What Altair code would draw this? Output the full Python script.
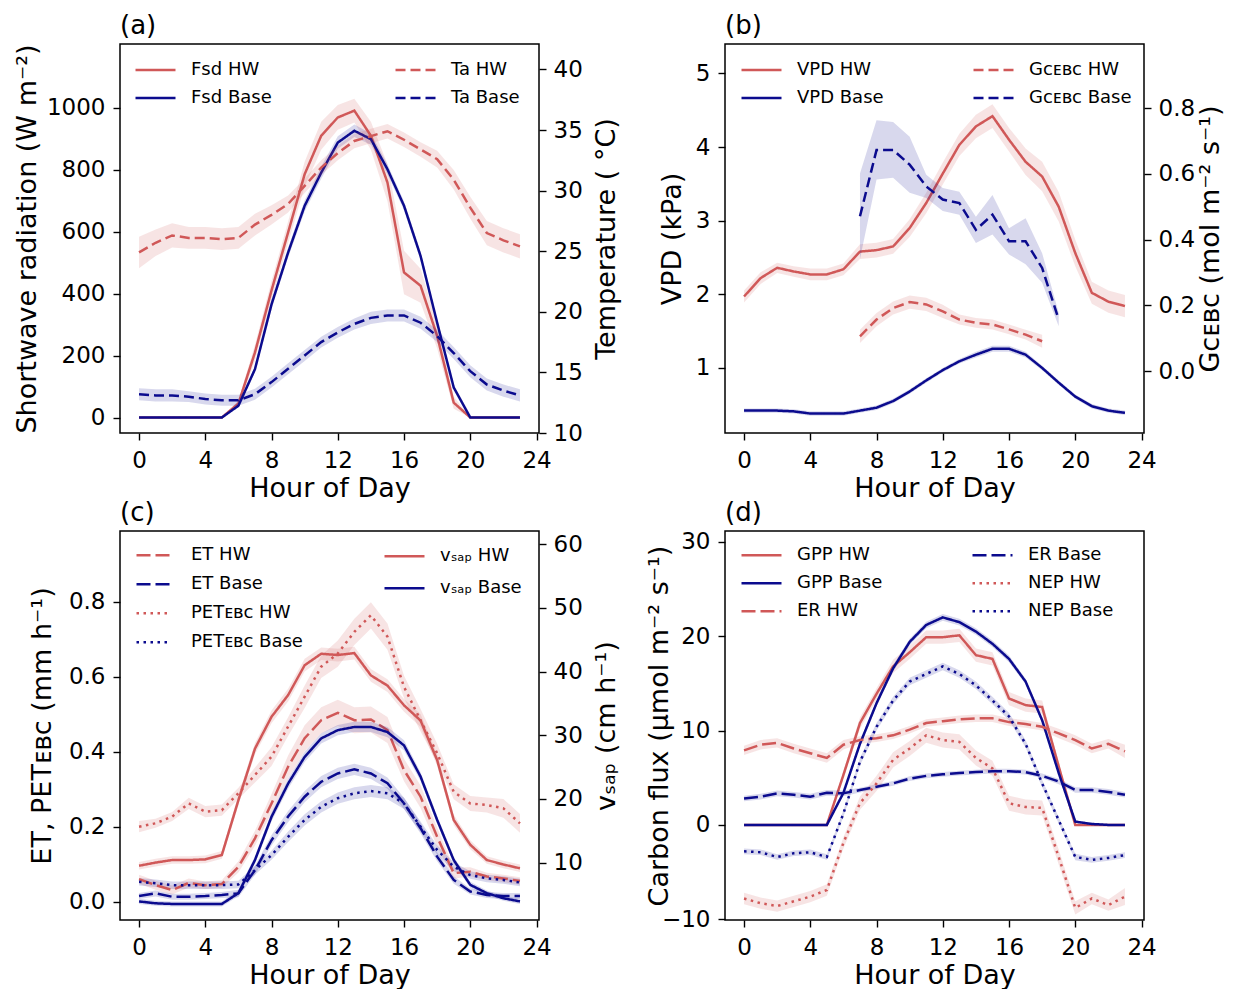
import altair as alt
import pandas as pd

hours = list(range(24))

# ---------------- panel (a) ----------------
fsd_hw = [0, 0, 0, 0, 0, 0, 45, 210, 410, 597, 785, 909, 968, 990, 909, 758, 468, 425, 263, 48, 0, 0, 0, 0]
fsd_hw_err = [0, 0, 0, 0, 0, 0, 10, 25, 30, 35, 40, 45, 40, 38, 45, 60, 70, 55, 40, 20, 0, 0, 0, 0]
fsd_base = [0, 0, 0, 0, 0, 0, 38, 156, 365, 532, 683, 790, 887, 925, 898, 801, 683, 521, 306, 97, 0, 0, 0, 0]
fsd_base_err = [0, 0, 0, 0, 0, 0, 5, 10, 14, 16, 18, 20, 20, 20, 18, 16, 14, 12, 10, 6, 0, 0, 0, 0]
ta_hw = [24.9, 25.7, 26.3, 26.1, 26.1, 26.0, 26.1, 27.2, 28.0, 28.9, 30.4, 31.9, 33.1, 34.1, 34.5, 34.9,
         34.2, 33.4, 32.6, 30.9, 28.6, 26.5, 25.9, 25.4]
ta_hw_err = [1.3, 1.1, 1.0, 0.9, 0.9, 0.9, 0.9, 0.9, 0.8, 0.7, 0.6, 0.6, 0.6, 0.6, 0.6, 0.6,
             0.6, 0.6, 0.7, 0.8, 0.9, 1.0, 1.0, 1.0]
ta_base = [13.2, 13.1, 13.1, 13.0, 12.8, 12.7, 12.7, 13.2, 14.2, 15.3, 16.4, 17.5, 18.3, 19.0, 19.5, 19.7,
           19.7, 19.1, 18.0, 16.6, 15.1, 14.0, 13.5, 13.1]
ta_base_err = [0.5, 0.5, 0.5, 0.45, 0.45, 0.45, 0.45, 0.45, 0.45, 0.45, 0.45, 0.45, 0.45, 0.45, 0.5, 0.5,
               0.5, 0.5, 0.5, 0.5, 0.5, 0.5, 0.5, 0.5]

# ---------------- panel (b) ----------------
vpd_hw = [1.97, 2.22, 2.36, 2.31, 2.27, 2.27, 2.34, 2.58, 2.60, 2.65, 2.90, 3.24, 3.64, 4.03, 4.28, 4.42,
          4.10, 3.80, 3.60, 3.19, 2.56, 2.02, 1.90, 1.84]
vpd_hw_err = [0.08, 0.08, 0.07, 0.07, 0.08, 0.08, 0.08, 0.10, 0.10, 0.10, 0.12, 0.14, 0.15, 0.15, 0.16, 0.16,
              0.16, 0.18, 0.20, 0.20, 0.18, 0.15, 0.15, 0.15]
vpd_base = [0.42, 0.42, 0.42, 0.41, 0.38, 0.38, 0.38, 0.42, 0.46, 0.55, 0.68, 0.83, 0.97, 1.09, 1.18, 1.26,
            1.26, 1.18, 1.00, 0.80, 0.61, 0.48, 0.42, 0.39]
vpd_base_err = [0.03, 0.03, 0.03, 0.03, 0.03, 0.03, 0.03, 0.03, 0.03, 0.03, 0.03, 0.03, 0.03, 0.03, 0.04, 0.04,
                0.04, 0.04, 0.03, 0.03, 0.03, 0.03, 0.03, 0.03]
gc_hw = [None, None, None, None, None, None, None, 0.106, 0.157, 0.192, 0.210, 0.203, 0.182, 0.157, 0.147,
         0.142, 0.127, 0.111, 0.091, None, None, None, None, None]
gc_hw_err = [None, None, None, None, None, None, None, 0.02, 0.02, 0.02, 0.02, 0.02, 0.02, 0.015, 0.015,
             0.015, 0.015, 0.015, 0.02, None, None, None, None, None]
gc_base = [None, None, None, None, None, None, None, 0.471, 0.673, 0.673, 0.628, 0.562, 0.522, 0.511, 0.430,
           0.476, 0.395, 0.395, 0.314, 0.157, None, None, None, None]
gc_base_err = [None, None, None, None, None, None, None, 0.13, 0.09, 0.085, 0.085, 0.035, 0.035, 0.035, 0.04,
               0.06, 0.04, 0.07, 0.045, 0.02, None, None, None, None]

# ---------------- panel (c) ----------------
et_hw = [0.060, 0.044, 0.031, 0.050, 0.044, 0.047, 0.093, 0.169, 0.262, 0.360, 0.436, 0.484, 0.504, 0.484,
         0.486, 0.458, 0.351, 0.280, 0.173, 0.076, 0.080, 0.067, 0.062, 0.055]
et_hw_err = [0.012, 0.012, 0.012, 0.012, 0.010, 0.010, 0.015, 0.020, 0.025, 0.030, 0.035, 0.035, 0.035, 0.035,
             0.035, 0.035, 0.030, 0.030, 0.025, 0.015, 0.012, 0.010, 0.010, 0.010]
et_base = [0.015, 0.022, 0.013, 0.013, 0.015, 0.018, 0.022, 0.084, 0.164, 0.227, 0.280, 0.320, 0.342, 0.353,
           0.342, 0.316, 0.262, 0.196, 0.120, 0.058, 0.027, 0.018, 0.015, 0.015]
et_base_err = [0.008, 0.008, 0.008, 0.008, 0.008, 0.008, 0.010, 0.012, 0.014, 0.015, 0.015, 0.015, 0.015, 0.015,
               0.015, 0.015, 0.015, 0.014, 0.012, 0.010, 0.008, 0.008, 0.008, 0.008]
pet_hw = [0.200, 0.209, 0.227, 0.262, 0.240, 0.244, 0.289, 0.338, 0.387, 0.467, 0.547, 0.627, 0.662, 0.720,
          0.764, 0.707, 0.573, 0.484, 0.396, 0.293, 0.262, 0.258, 0.249, 0.209]
pet_hw_err = [0.015, 0.012, 0.012, 0.015, 0.015, 0.015, 0.015, 0.020, 0.025, 0.025, 0.030, 0.030, 0.035, 0.035,
              0.035, 0.035, 0.030, 0.030, 0.025, 0.020, 0.020, 0.020, 0.025, 0.025]
pet_base = [0.053, 0.049, 0.044, 0.044, 0.044, 0.044, 0.046, 0.084, 0.124, 0.173, 0.218, 0.253, 0.276, 0.289,
            0.295, 0.289, 0.262, 0.200, 0.138, 0.093, 0.071, 0.062, 0.058, 0.051]
pet_base_err = [0.010, 0.010, 0.010, 0.010, 0.010, 0.010, 0.010, 0.012, 0.012, 0.014, 0.015, 0.015, 0.015, 0.016,
                0.016, 0.016, 0.015, 0.014, 0.012, 0.012, 0.010, 0.010, 0.010, 0.010]
vsap_hw = [9.5, 10.0, 10.4, 10.4, 10.5, 11.2, 19.8, 27.9, 32.9, 36.3, 41.0, 42.8, 42.6, 42.9, 39.4, 37.8,
           34.7, 32.3, 26.1, 16.7, 12.8, 10.4, 9.7, 9.1]
vsap_hw_err = [0.6, 0.6, 0.6, 0.6, 0.6, 0.6, 0.8, 0.9, 1.0, 1.0, 1.0, 1.0, 1.0, 1.0, 1.0, 1.0,
               1.0, 1.0, 0.9, 0.8, 0.7, 0.6, 0.6, 0.6]
vsap_base = [3.9, 3.6, 3.5, 3.5, 3.5, 3.5, 5.2, 10.4, 17.2, 22.4, 26.6, 29.5, 30.8, 31.3, 31.3, 30.5,
             28.4, 23.5, 16.7, 10.4, 6.5, 5.2, 4.4, 3.9]
vsap_base_err = [0.4, 0.4, 0.4, 0.4, 0.4, 0.4, 0.5, 0.6, 0.7, 0.8, 0.8, 0.8, 0.8, 0.8, 0.8, 0.8,
                 0.8, 0.7, 0.6, 0.5, 0.5, 0.4, 0.4, 0.4]

# ---------------- panel (d) ----------------
gpp_hw = [0, 0, 0, 0, 0, 0, 5.3, 10.8, 13.9, 16.8, 18.3, 19.9, 19.9, 20.1, 18.0, 17.6, 13.4, 12.7, 12.5, 6.2,
          0, 0, 0, 0]
gpp_hw_err = [0, 0, 0, 0, 0, 0, 0.4, 0.6, 0.6, 0.7, 0.7, 0.7, 0.7, 0.7, 0.7, 0.7, 0.7, 0.7, 0.7, 0.5,
              0, 0, 0, 0]
gpp_base = [0, 0, 0, 0, 0, 0, 3.4, 8.6, 12.9, 16.6, 19.4, 21.2, 22.0, 21.5, 20.5, 19.2, 17.6, 15.2, 11.1, 5.5,
            0.35, 0.1, 0, 0]
gpp_base_err = [0, 0, 0, 0, 0, 0, 0.2, 0.3, 0.3, 0.35, 0.35, 0.35, 0.35, 0.35, 0.35, 0.35, 0.35, 0.3, 0.3, 0.2,
                0.1, 0, 0, 0]
er_hw = [7.9, 8.5, 8.7, 8.1, 7.6, 7.1, 8.5, 9.0, 9.2, 9.5, 10.1, 10.8, 11.0, 11.2, 11.3, 11.3, 10.9, 10.7,
         10.4, 9.7, 9.0, 8.1, 8.6, 7.8]
er_hw_err = [0.5, 0.5, 0.5, 0.5, 0.5, 0.5, 0.5, 0.4, 0.4, 0.4, 0.4, 0.4, 0.4, 0.4, 0.4, 0.4, 0.4, 0.4,
             0.4, 0.5, 0.5, 0.5, 0.5, 0.7]
er_base = [2.8, 3.0, 3.35, 3.2, 3.0, 3.4, 3.35, 3.7, 4.05, 4.4, 4.9, 5.2, 5.36, 5.5, 5.6, 5.7, 5.7, 5.6,
           5.2, 4.6, 3.7, 3.7, 3.5, 3.2]
er_base_err = [0.3, 0.3, 0.3, 0.3, 0.3, 0.3, 0.3, 0.25, 0.25, 0.25, 0.25, 0.25, 0.25, 0.25, 0.25, 0.25, 0.25,
               0.25, 0.25, 0.3, 0.3, 0.3, 0.3, 0.3]
nep_hw = [-7.8, -8.3, -8.6, -8.1, -7.6, -6.9, -1.9, 2.3, 4.4, 6.9, 8.1, 9.5, 9.0, 8.8, 7.1, 6.0, 2.3, 1.9,
          1.8, -3.4, -8.8, -7.8, -8.5, -7.6]
nep_hw_err = [0.6, 0.6, 0.6, 0.6, 0.6, 0.6, 0.6, 0.7, 0.8, 0.8, 0.8, 0.8, 0.8, 0.8, 0.8, 0.8, 0.8, 0.8,
              0.8, 0.8, 0.7, 0.6, 0.6, 0.9]
nep_base = [-2.8, -2.9, -3.4, -3.0, -2.9, -3.4, 1.2, 6.7, 10.4, 13.2, 15.2, 16.0, 16.8, 16.0, 14.8, 13.2,
            11.5, 8.6, 4.4, 0.5, -3.4, -3.7, -3.5, -3.2]
nep_base_err = [0.3, 0.3, 0.3, 0.3, 0.3, 0.3, 0.35, 0.4, 0.4, 0.4, 0.4, 0.4, 0.4, 0.4, 0.4, 0.4,
                0.4, 0.4, 0.4, 0.35, 0.35, 0.3, 0.3, 0.3]

# ---------------- styling ----------------
RED = "#d05858"
BLUE = "#0b0b8e"
SOLID = [1, 0]
DASH = [10, 5]
LONGDASH = [14, 5]
DOT = [2.5, 4.5]
FONT = "DejaVu Sans"
W, H = 419, 389
X_DOMAIN = [-1.15, 24.15]
TICK_FS = 23
TITLE_FS = 27


def make_df(items):
    rows = []
    for name, vals, errs in items:
        for h, v, e in zip(hours, vals, errs):
            if v is None:
                continue
            rows.append({"hour": h, "value": v, "lo": v - e, "hi": v + e, "series": name})
    return pd.DataFrame(rows)


def x_enc():
    return alt.X("hour:Q", scale=alt.Scale(domain=X_DOMAIN, nice=False, zero=False),
                 axis=alt.Axis(values=[0, 4, 8, 12, 16, 20, 24], format="d", title="Hour of Day",
                               labelPadding=9, titlePadding=3))


def left_axis(title, values, fmt, tpad):
    return alt.Axis(orient="left", values=values, format=fmt, title=title, labelPadding=8,
                    titlePadding=tpad)


def right_axis(title, values, fmt, tpad):
    return alt.Axis(orient="right", values=values, format=fmt, title=title, labelPadding=7,
                    titlePadding=tpad, titleAngle=270, titleBaseline="top")


def legend(lx, ly, row_h, sym_len, offset):
    return alt.Legend(orient="none", legendX=lx, legendY=ly, title=None, symbolType="stroke",
                      symbolSize=sym_len * sym_len, symbolStrokeWidth=2.5, clipHeight=row_h,
                      rowPadding=0, labelOffset=offset, labelFontSize=18, labelFont=FONT,
                      labelColor="black", padding=0, labelLimit=400)


def group(items, colors, dashes, y_domain, y_axis, leg):
    df = make_df(items)
    names = [it[0] for it in items]
    cscale = alt.Scale(domain=names, range=colors)
    dscale = alt.Scale(domain=names, range=dashes)
    ysc = alt.Scale(domain=y_domain, nice=False, zero=False)
    base = alt.Chart(df)
    layers = []
    for name, col in zip(names, colors):
        layers.append(
            base.transform_filter(alt.datum.series == name)
            .mark_area(opacity=0.16, color=col)
            .encode(x=x_enc(), y=alt.Y("lo:Q", scale=ysc, axis=y_axis), y2="hi:Q")
        )
    line = base.mark_line(strokeWidth=2.5, strokeCap="butt").encode(
        x=x_enc(),
        y=alt.Y("value:Q", scale=ysc, axis=y_axis),
        color=alt.Color("series:N", scale=cscale, legend=leg),
        strokeDash=alt.StrokeDash("series:N", scale=dscale, legend=leg),
    )
    layers.append(line)
    return alt.layer(*layers)


def panel(label, left, right, y_res="independent"):
    return alt.layer(left, right).resolve_scale(
        y=y_res, color="independent", strokeDash="independent"
    ).properties(
        width=W, height=H,
        title=alt.TitleParams(label, anchor="start", frame="group", fontSize=26, fontWeight="normal",
                              font=FONT, color="black", offset=5),
    )


# (a)
a_left = group(
    [("Fsd HW", fsd_hw, fsd_hw_err), ("Fsd Base", fsd_base, fsd_base_err)],
    [RED, BLUE], [SOLID, SOLID], [-50, 1205],
    left_axis("Shortwave radiation (W m⁻²)", [0, 200, 400, 600, 800, 1000], "d", 5),
    legend(14, 12.4, 27.3, 40, 14),
)
a_right = group(
    [("Ta HW", ta_hw, ta_hw_err), ("Ta Base", ta_base, ta_base_err)],
    [RED, BLUE], [DASH, DASH], [10, 42.1],
    right_axis("Temperature ( °C)", [10, 15, 20, 25, 30, 35, 40], "d", 11),
    legend(274, 12.4, 27.3, 40, 14),
)
pa = panel("(a)", a_left, a_right)

# (b)
b_left = group(
    [("VPD HW", vpd_hw, vpd_hw_err), ("VPD Base", vpd_base, vpd_base_err)],
    [RED, BLUE], [SOLID, SOLID], [0.116, 5.4],
    left_axis("VPD (kPa)", [1, 2, 3, 4, 5], "d", 9),
    legend(15, 12.4, 27.3, 40, 14),
)
b_right = group(
    [("Gcᴇʙᴄ HW", gc_hw, gc_hw_err), ("Gcᴇʙᴄ Base", gc_base, gc_base_err)],
    [RED, BLUE], [DASH, DASH], [-0.188, 0.995],
    right_axis("Gcᴇʙᴄ (mol m⁻² s⁻¹)", [0.0, 0.2, 0.4, 0.6, 0.8], ".1f", 3),
    legend(247, 12.4, 27.3, 40, 14),
)
pb = panel("(b)", b_left, b_right)

# (c)
c_left = group(
    [("ET HW", et_hw, et_hw_err), ("ET Base", et_base, et_base_err),
     ("PETᴇʙᴄ HW", pet_hw, pet_hw_err), ("PETᴇʙᴄ Base", pet_base, pet_base_err)],
    [RED, BLUE, RED, BLUE], [LONGDASH, LONGDASH, DOT, DOT], [-0.049, 0.989],
    left_axis("ET,  PETᴇʙᴄ (mm h⁻¹)", [0.0, 0.2, 0.4, 0.6, 0.8], ".1f", 12),
    legend(15, 10.2, 28.3, 33, 20),
)
c_right = group(
    [("vₛₐₚ HW", vsap_hw, vsap_hw_err), ("vₛₐₚ Base", vsap_base, vsap_base_err)],
    [RED, BLUE], [SOLID, SOLID], [0.98, 62.08],
    right_axis("vₛₐₚ (cm h⁻¹)", [10, 20, 30, 40, 50, 60], "d", 11),
    legend(263, 9.6, 31.4, 40, 14),
)
pc = panel("(c)", c_left, c_right)

# (d)
d_axis = left_axis("Carbon flux (μmol m⁻² s⁻¹)", [-10, 0, 10, 20, 30], "d", -12)
d_left = group(
    [("GPP HW", gpp_hw, gpp_hw_err), ("GPP Base", gpp_base, gpp_base_err), ("ER HW", er_hw, er_hw_err)],
    [RED, BLUE, RED], [SOLID, SOLID, LONGDASH], [-10.08, 31.16], d_axis,
    legend(15, 10.5, 27.5, 40, 14),
)
d_right = group(
    [("ER Base", er_base, er_base_err), ("NEP HW", nep_hw, nep_hw_err), ("NEP Base", nep_base, nep_base_err)],
    [BLUE, RED, BLUE], [LONGDASH, DOT, DOT], [-10.08, 31.16], d_axis,
    legend(246, 10.5, 27.5, 40, 14),
)
pd_ = panel("(d)", d_left, d_right, y_res="shared")

chart = alt.concat(
    pa, pb, pc, pd_, columns=2, spacing={"row": 98, "column": 186}, bounds="flush"
).resolve_scale(
    color="independent", strokeDash="independent"
).properties(
    padding={"left": 4, "top": 4, "right": 0, "bottom": 0}
).configure(
    font=FONT
).configure_axis(
    labelFont=FONT, titleFont=FONT, labelFontSize=TICK_FS, titleFontSize=TITLE_FS,
    titleFontWeight="normal", labelColor="black", titleColor="black", tickColor="black",
    tickSize=7, tickWidth=1.4, domain=False, grid=False,
).configure_view(
    stroke="black", strokeWidth=1.5
)

chart.save("out.html", embed_options={"renderer": "svg", "actions": False})
